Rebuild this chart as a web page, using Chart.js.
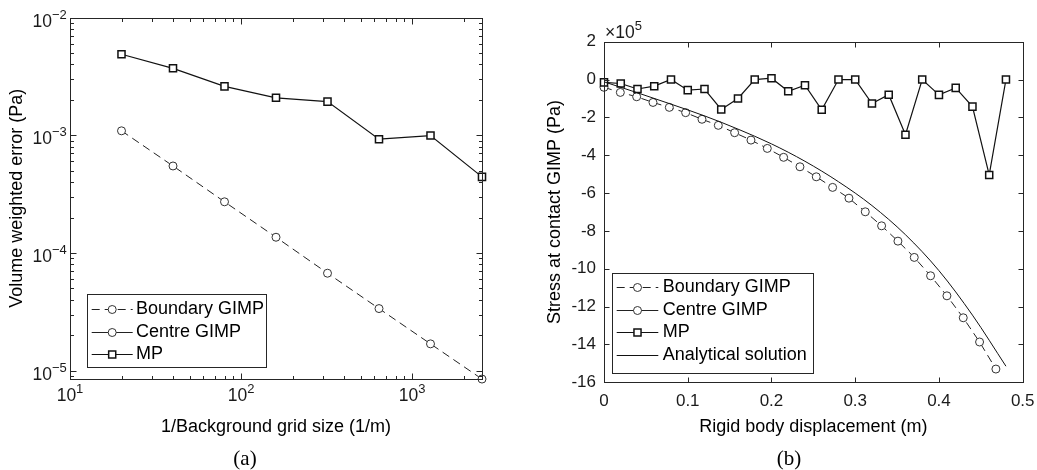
<!DOCTYPE html>
<html>
<head>
<meta charset="utf-8">
<script src="https://cdn.jsdelivr.net/npm/chart.js@4.4.1/dist/chart.umd.min.js"></script>
<style>
  html, body { margin: 0; padding: 0; background: #fff; }
  #wrap { position: relative; width: 1037px; height: 470px; }
  canvas { position: absolute; top: 0; }
  #chartA { left: 0; }
  #chartB { left: 518px; }
</style>
</head>
<body>
<div id="wrap">
  <canvas id="chartA" width="518" height="470"></canvas>
  <canvas id="chartB" width="519" height="470"></canvas>
</div>
<script>
// ---- (a) error vs grid size (log-log) ----
const gridSize = [20, 40, 80, 160, 320, 640, 1280, 2560];
const errBoundary = [1.09e-3, 5.48e-4, 2.72e-4, 1.36e-4, 6.73e-5, 3.37e-5, 1.69e-5, 8.49e-6];
const errCentre = []; // only shown in the legend
const errMP = [4.87e-3, 3.70e-3, 2.60e-3, 2.08e-3, 1.93e-3, 9.25e-4, 9.93e-4, 4.43e-4];
const xTicksA = [10, 100, 1000];
const yTicksA = [1e-5, 1e-4, 1e-3, 1e-2];

// ---- (b) stress vs displacement, stress in x10^5 Pa ----
const dispGIMP = [0, 0.0195, 0.039, 0.0585, 0.078, 0.0975, 0.117, 0.1365, 0.156, 0.1755, 0.195, 0.2145,
                  0.234, 0.2535, 0.273, 0.2925, 0.312, 0.3315, 0.351, 0.3705, 0.39, 0.4095, 0.429, 0.4485, 0.468];
const stressBoundary = [-0.41, -0.68, -0.91, -1.21, -1.47, -1.75, -2.10, -2.42, -2.81, -3.20, -3.64, -4.11,
                        -4.61, -5.14, -5.70, -6.27, -6.99, -7.73, -8.54, -9.40, -10.37, -11.43, -12.59, -13.87, -15.30];
const stressCentre = []; // only shown in the legend
const dispMP = [0, 0.02, 0.04, 0.06, 0.08, 0.10, 0.12, 0.14, 0.16, 0.18, 0.20, 0.22,
                0.24, 0.26, 0.28, 0.30, 0.32, 0.34, 0.36, 0.38, 0.40, 0.42, 0.44, 0.46, 0.48];
const stressMP = [-0.15, -0.21, -0.50, -0.35, 0, -0.56, -0.50, -1.58, -1.0, 0, 0.07, -0.62,
                  -0.30, -1.60, 0, 0, -1.27, -0.80, -2.92, 0, -0.81, -0.44, -1.43, -5.04, 0];
const dispExact = [0, 0.04, 0.08, 0.12, 0.16, 0.20, 0.24, 0.28, 0.32, 0.36, 0.40, 0.44, 0.48];
const stressExact = [-0.12, -0.70, -1.30, -1.92, -2.62, -3.40, -4.32, -5.40, -6.66, -8.20, -10.10, -12.45, -15.15];
const xTicksB = [0, 0.1, 0.2, 0.3, 0.4, 0.5];
const yTicksB = [2, 0, -2, -4, -6, -8, -10, -12, -14, -16];

const INK = '#262626';
const SANS = '"Liberation Sans", Arial, Helvetica, sans-serif';
const pts = (xs, ys) => ys.map((y, i) => ({ x: xs[i], y: y }));

const boundaryStyle = { borderColor: '#222', borderWidth: 1, borderDash: [8, 5], pointStyle: 'circle',
  pointRadius: 4, pointBorderColor: '#333', pointBackgroundColor: '#fff', pointBorderWidth: 1, clip: false };
const centreStyle = { borderColor: '#222', borderWidth: 1, pointStyle: 'circle',
  pointRadius: 4, pointBorderColor: '#333', pointBackgroundColor: '#fff', pointBorderWidth: 1, clip: false };
const mpStyle = { borderColor: '#111', borderWidth: 1.2, pointStyle: 'rect',
  pointRadius: 5, pointBorderColor: '#111', pointBackgroundColor: '#fff', pointBorderWidth: 1.5, clip: false };

function drawPow(ctx, exp, x, y, align) {
  const base = '10';
  const sup = exp < 0 ? '\u2212' + (-exp) : String(exp);
  ctx.font = '17.5px ' + SANS;
  const wb = ctx.measureText(base).width;
  ctx.font = '13px ' + SANS;
  const ws = ctx.measureText(sup).width;
  const x0 = align === 'right' ? x - wb - ws : x - (wb + ws) / 2;
  ctx.textAlign = 'left';
  ctx.textBaseline = 'alphabetic';
  ctx.font = '17.5px ' + SANS;
  ctx.fillText(base, x0, y);
  ctx.font = '13px ' + SANS;
  ctx.fillText(sup, x0 + wb, y - 8);
}

function logMinor(min, max) {
  const out = [];
  for (let k = Math.floor(Math.log10(min)); k <= Math.ceil(Math.log10(max)); k++) {
    for (let d = 2; d <= 9; d++) {
      const v = d * Math.pow(10, k);
      if (v >= min && v <= max) out.push(v);
    }
  }
  return out;
}

// box, inward ticks and tick labels in the MATLAB look
const matlabAxes = {
  id: 'matlabAxes',
  afterDatasetsDraw(chart, args, o) {
    const { ctx, chartArea: a, scales: { x, y } } = chart;
    const L = Math.round(a.left) + 0.5, R = Math.round(a.right) + 0.5;
    const T = Math.round(a.top) + 0.5, B = Math.round(a.bottom) + 0.5;
    ctx.save();
    ctx.strokeStyle = INK;
    ctx.lineWidth = 1;
    ctx.beginPath();
    const xt = (v, len) => {
      const p = Math.round(x.getPixelForValue(v)) + 0.5;
      ctx.moveTo(p, B); ctx.lineTo(p, B - len);
      ctx.moveTo(p, T); ctx.lineTo(p, T + len);
    };
    const yt = (v, len) => {
      const p = Math.round(y.getPixelForValue(v)) + 0.5;
      ctx.moveTo(L, p); ctx.lineTo(L + len, p);
      ctx.moveTo(R, p); ctx.lineTo(R - len, p);
    };
    o.xTicks.forEach(v => xt(v, o.tickLen));
    o.yTicks.forEach(v => yt(v, o.tickLen));
    if (o.logX) logMinor(x.min, x.max).forEach(v => xt(v, o.minorLen));
    if (o.logY) logMinor(y.min, y.max).forEach(v => yt(v, o.minorLen));
    ctx.stroke();
    ctx.strokeRect(L, T, R - L, B - T);

    ctx.fillStyle = '#1a1a1a';
    o.xTicks.forEach(v => {
      const p = x.getPixelForValue(v);
      if (o.logX) {
        drawPow(ctx, Math.round(Math.log10(v)), p, a.bottom + 22, 'center');
      } else {
        ctx.font = '17px ' + SANS;
        ctx.textAlign = 'center';
        ctx.textBaseline = 'middle';
        ctx.fillText(String(v), p, a.bottom + 19.2);
      }
    });
    o.yTicks.forEach(v => {
      const p = y.getPixelForValue(v);
      if (o.logY) {
        drawPow(ctx, Math.round(Math.log10(v)), a.left - 3.3, p + 9, 'right');
      } else {
        ctx.font = '17px ' + SANS;
        ctx.textAlign = 'right';
        ctx.textBaseline = 'middle';
        ctx.fillText(String(v), a.left - 8, p);
      }
    });
    if (o.multiplier) {
      ctx.textAlign = 'left';
      ctx.textBaseline = 'alphabetic';
      ctx.font = '17.5px ' + SANS;
      const s = '\u00d710';
      ctx.fillText(s, a.left + 1, a.top - 3.5);
      const w = ctx.measureText(s).width;
      ctx.font = '13px ' + SANS;
      ctx.fillText(o.multiplier, a.left + 1 + w, a.top - 11.5);
    }
    // sub-figure caption
    ctx.fillStyle = '#000';
    ctx.font = '21px "Liberation Serif", "Times New Roman", serif';
    ctx.textAlign = 'center';
    ctx.textBaseline = 'middle';
    ctx.fillText(o.caption.text, o.caption.x, o.caption.y);
    ctx.restore();
  }
};

// boxed legend inside the axes
const boxLegend = {
  id: 'boxLegend',
  afterDraw(chart, args, o) {
    const ctx = chart.ctx;
    ctx.save();
    ctx.fillStyle = '#fff';
    ctx.fillRect(o.x, o.y, o.w, o.h);
    ctx.strokeStyle = INK;
    ctx.lineWidth = 1;
    ctx.strokeRect(Math.round(o.x) + 0.5, Math.round(o.y) + 0.5, Math.round(o.w), Math.round(o.h));
    chart.data.datasets.forEach((ds, i) => {
      const cy = Math.round(o.y + o.first + i * o.row) + 0.5;
      const x0 = o.x + o.l0, x1 = o.x + o.l1, cx = (x0 + x1) / 2;
      ctx.beginPath();
      ctx.setLineDash(ds.borderDash || []);
      ctx.strokeStyle = ds.borderColor;
      ctx.lineWidth = ds.borderWidth;
      ctx.moveTo(x0, cy); ctx.lineTo(x1, cy);
      ctx.stroke();
      ctx.setLineDash([]);
      if (ds.pointRadius > 0) {
        ctx.beginPath();
        ctx.fillStyle = ds.pointBackgroundColor;
        ctx.strokeStyle = ds.pointBorderColor;
        ctx.lineWidth = ds.pointBorderWidth;
        if (ds.pointStyle === 'rect') {
          const s = ds.pointRadius * Math.SQRT1_2;
          ctx.rect(cx - s, cy - s, 2 * s, 2 * s);
        } else {
          ctx.arc(cx, cy, ds.pointRadius, 0, Math.PI * 2);
        }
        ctx.fill();
        ctx.stroke();
      }
      ctx.fillStyle = '#000';
      ctx.font = '18px ' + SANS;
      ctx.textAlign = 'left';
      ctx.textBaseline = 'middle';
      ctx.fillText(ds.label, o.x + o.tx, cy);
    });
    ctx.restore();
  }
};

const hiddenAxis = { grid: { display: false }, border: { display: false }, ticks: { display: false } };

new Chart(document.getElementById('chartA'), {
  type: 'line',
  data: {
    datasets: [
      Object.assign({ label: 'Boundary GIMP', data: pts(gridSize, errBoundary), order: 3 }, boundaryStyle),
      Object.assign({ label: 'Centre GIMP', data: pts(gridSize, errCentre), order: 2 }, centreStyle),
      Object.assign({ label: 'MP', data: pts(gridSize, errMP), order: 1 }, mpStyle)
    ]
  },
  options: {
    responsive: false,
    animation: false,
    layout: { padding: { top: 17.5, right: 36, bottom: 0, left: 0 } },
    scales: {
      x: Object.assign({
        type: 'logarithmic', min: 10, max: 2560,
        title: { display: true, text: '1/Background grid size (1/m)', color: '#000',
                 font: { family: SANS, size: 18 }, padding: { top: 0, bottom: 32 } },
        afterFit(s) { s.height = 91; }
      }, hiddenAxis),
      y: Object.assign({
        type: 'logarithmic', min: 8.5e-6, max: 1e-2,
        title: { display: true, text: 'Volume weighted error (Pa)', color: '#000',
                 font: { family: SANS, size: 18 }, padding: { top: 6.7, bottom: 0 } },
        afterFit(s) { s.width = 70; }
      }, hiddenAxis)
    },
    plugins: {
      legend: { display: false },
      tooltip: { enabled: false },
      matlabAxes: { logX: true, logY: true, xTicks: xTicksA, yTicks: yTicksA, tickLen: 6, minorLen: 3.5,
                    caption: { text: '(a)', x: 245, y: 459 } },
      boxLegend: { x: 87.3, y: 294, w: 179.4, h: 73, first: 15.3, row: 22.3, l0: 4.4, l1: 45.4, tx: 48.7 }
    }
  },
  plugins: [matlabAxes, boxLegend]
});

new Chart(document.getElementById('chartB'), {
  type: 'line',
  data: {
    datasets: [
      Object.assign({ label: 'Boundary GIMP', data: pts(dispGIMP, stressBoundary), order: 3 }, boundaryStyle),
      Object.assign({ label: 'Centre GIMP', data: pts(dispGIMP, stressCentre), order: 2 }, centreStyle),
      Object.assign({ label: 'MP', data: pts(dispMP, stressMP), order: 1 }, mpStyle),
      { label: 'Analytical solution', data: pts(dispExact, stressExact), order: 0, borderColor: '#111',
        borderWidth: 1, pointRadius: 0, cubicInterpolationMode: 'monotone', clip: false }
    ]
  },
  options: {
    responsive: false,
    animation: false,
    layout: { padding: { top: 41.7, right: 14.3, bottom: 0, left: 0 } },
    scales: {
      x: Object.assign({
        type: 'linear', min: 0, max: 0.5,
        title: { display: true, text: 'Rigid body displacement (m)', color: '#000',
                 font: { family: SANS, size: 18 }, padding: { top: 0, bottom: 32 } },
        afterFit(s) { s.height = 87.7; }
      }, hiddenAxis),
      y: Object.assign({
        type: 'linear', min: -16, max: 2,
        title: { display: true, text: 'Stress at contact GIMP (Pa)', color: '#000',
                 font: { family: SANS, size: 18 }, padding: { top: 26.7, bottom: 0 } },
        afterFit(s) { s.width = 86; }
      }, hiddenAxis)
    },
    plugins: {
      legend: { display: false },
      tooltip: { enabled: false },
      matlabAxes: { xTicks: xTicksB, yTicks: yTicksB, tickLen: 5, multiplier: '5',
                    caption: { text: '(b)', x: 271, y: 459 } },
      boxLegend: { x: 94.3, y: 273.3, w: 201, h: 100, first: 14, row: 22.4, l0: 4.4, l1: 46, tx: 50.4 }
    }
  },
  plugins: [matlabAxes, boxLegend]
});
</script>
</body>
</html>
